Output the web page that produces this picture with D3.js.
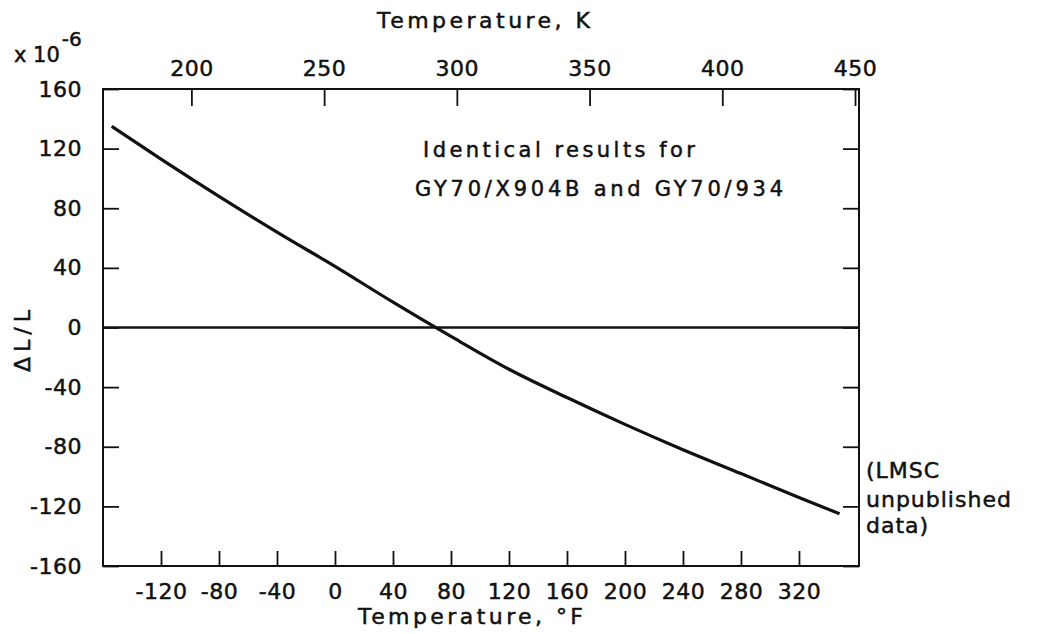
<!DOCTYPE html>
<meta charset="utf-8">
<style>
body {
  margin: 0;
  background: #fff;
}
svg text {
  font-family: "DejaVu Sans", sans-serif;
  fill: #111;
  stroke: #111;
  stroke-width: 0.5px;
}
.axis path {
  display: none;
}
.axis line {
  stroke: #111;
  stroke-width: 1.8px;
}
.axis text {
  font-size: 22px;
  letter-spacing: 0.5px;
  fill: #111;
}
.frame {
  fill: none;
  stroke: #111;
  stroke-width: 2px;
}
.zero {
  stroke: #111;
  stroke-width: 2.6px;
}
.line {
  fill: none;
  stroke: #111;
  stroke-width: 3.2px;
}
</style>
<body>
<svg width="1038" height="634"></svg>
<script src="https://cdn.jsdelivr.net/npm/d3@7"></script>
<script>
// curve: temperature (°F) vs dL/L (x 10^-6)
var tempF = [-154, -120, -80, -40, 0, 40, 80, 120, 160, 200, 240, 280, 320, 348];
var strain = [135, 113, 88, 64, 41, 17, -6, -28, -47, -65, -82, -98, -114, -125];

var ticksF = [-120, -80, -40, 0, 40, 80, 120, 160, 200, 240, 280, 320];
var ticksK = [200, 250, 300, 350, 400, 450];
var ticksY = [-160, -120, -80, -40, 0, 40, 80, 120, 160];

var noteLines = ["Identical results for", "GY70/X904B and GY70/934"];
var sourceLines = ["(LMSC", "unpublished", "data)"];

var svg = d3.select("svg"),
    margin = {top: 89, right: 179, bottom: 68, left: 103},
    width = 1038 - margin.left - margin.right,
    height = 634 - margin.top - margin.bottom,
    g = svg.append("g").attr("transform", "translate(" + margin.left + "," + margin.top + ")");

var x = d3.scaleLinear().domain([-160, 361.4]).range([0, width]),
    xK = d3.scaleLinear().domain([166.7, 451.5]).range([0, width]),
    y = d3.scaleLinear().domain([-160, 160]).range([height, 0]);

var fmt = function(d) { return d < 0 ? "-" + Math.abs(d) : "" + d; };

g.append("g")
    .attr("class", "axis axis--x")
    .attr("transform", "translate(0," + height + ")")
    .call(d3.axisBottom(x).tickValues(ticksF).tickFormat(fmt).tickSizeInner(-15).tickSizeOuter(0).tickPadding(17));

g.append("g")
    .attr("class", "axis axis--k")
    .call(d3.axisTop(xK).tickValues(ticksK).tickSizeInner(-17).tickSizeOuter(0).tickPadding(13));

g.append("g")
    .attr("class", "axis axis--y")
    .call(d3.axisLeft(y).tickValues(ticksY).tickFormat(fmt).tickSizeInner(-16).tickSizeOuter(0).tickPadding(21));

g.append("g")
    .attr("class", "axis axis--y2")
    .attr("transform", "translate(" + width + ",0)")
    .call(d3.axisRight(y).tickValues(ticksY).tickFormat("").tickSizeInner(-16).tickSizeOuter(0));

g.append("rect")
    .attr("class", "frame")
    .attr("width", width)
    .attr("height", height);

g.append("line")
    .attr("class", "zero")
    .attr("x1", 0)
    .attr("x2", width)
    .attr("y1", y(0))
    .attr("y2", y(0));

var points = tempF.map(function(t, i) { return {t: t, v: strain[i]}; });

var line = d3.line()
    .curve(d3.curveMonotoneX)
    .x(function(d) { return x(d.t); })
    .y(function(d) { return y(d.v); });

g.append("path")
    .datum(points)
    .attr("class", "line")
    .attr("d", line);

// titles
svg.append("text")
    .attr("x", 377)
    .attr("y", 28)
    .attr("textLength", 213)
    .attr("lengthAdjust", "spacing")
    .style("font-size", "22px")
    .text("Temperature, K");

svg.append("text")
    .attr("x", 358)
    .attr("y", 624)
    .attr("textLength", 225)
    .attr("lengthAdjust", "spacing")
    .style("font-size", "22px")
    .text("Temperature, °F");

var mult = svg.append("text")
    .attr("x", 14)
    .attr("y", 62)
    .style("font-size", "21px");
mult.append("tspan").text("x 10");
mult.append("tspan").attr("dx", 2).attr("dy", -16).style("font-size", "20px").text("-6");

svg.append("text")
    .attr("transform", "translate(30,341) rotate(-90)")
    .attr("text-anchor", "middle")
    .attr("textLength", 62)
    .attr("lengthAdjust", "spacing")
    .style("font-size", "22px")
    .text("\u0394L/L");

// annotations
svg.append("text")
    .attr("x", 423)
    .attr("y", 157)
    .attr("textLength", 272)
    .attr("lengthAdjust", "spacing")
    .style("font-size", "21px")
    .text(noteLines[0]);

svg.append("text")
    .attr("x", 415)
    .attr("y", 196)
    .attr("textLength", 368)
    .attr("lengthAdjust", "spacing")
    .style("font-size", "21px")
    .text(noteLines[1]);

svg.selectAll(".source")
    .data(sourceLines)
    .enter().append("text")
      .attr("class", "source")
      .attr("x", 866)
      .attr("y", function(d, i) { return [478, 507, 533][i]; })
      .style("font-size", "22px")
      .style("letter-spacing", "1px")
      .text(function(d) { return d; });
</script>
</body>
